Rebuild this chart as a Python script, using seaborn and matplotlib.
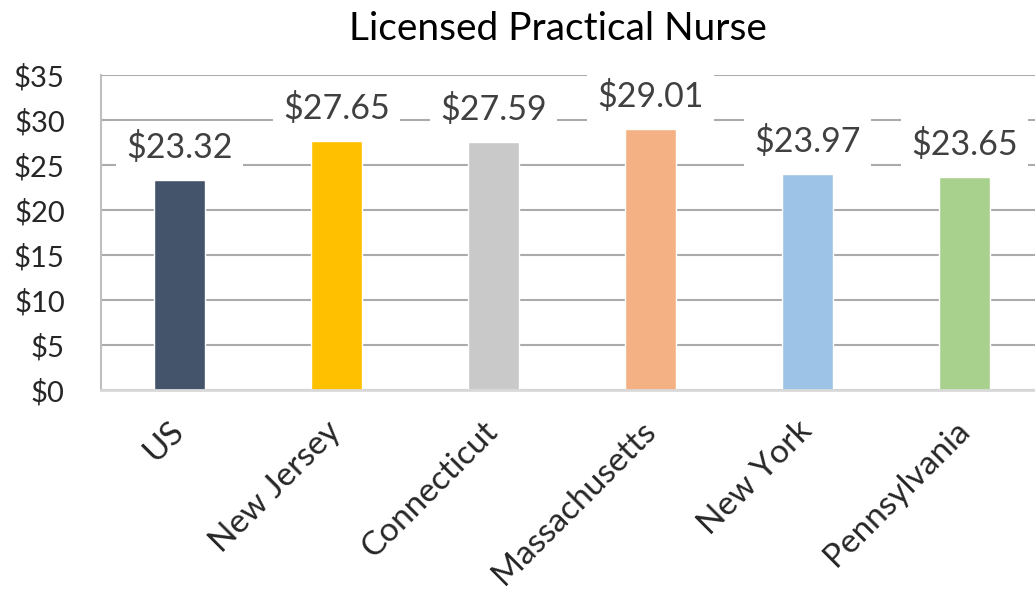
import matplotlib
matplotlib.use('Agg')
import matplotlib.pyplot as plt
import seaborn as sns
import pandas as pd

# chart data
states = ['US', 'New Jersey', 'Connecticut', 'Massachusetts', 'New York', 'Pennsylvania']
wages = [23.32, 27.65, 27.59, 29.01, 23.97, 23.65]
bar_colors = ['#44546A', '#FFC000', '#C9C9C9', '#F4B183', '#9DC3E6', '#A9D18E']
y_ticks = [0, 5, 10, 15, 20, 25, 30, 35]


def main():
    sns.set_style('white')
    plt.rcParams['font.family'] = ['Lato', 'DejaVu Sans']

    df = pd.DataFrame({'State': states, 'Wage': wages})

    fig = plt.figure(figsize=(10.35, 5.95), dpi=100)
    ax = fig.add_axes([0.0976, 0.3445, 0.9101, 0.5294])

    sns.barplot(data=df, x='State', y='Wage', hue='State', palette=bar_colors,
                legend=False, width=0.32, saturation=1, ax=ax, zorder=2)

    ax.set_ylim(0, 35)
    ax.set_xlim(-0.5, len(states) - 0.5)
    ax.set_yticks(y_ticks)
    ax.set_yticklabels([f'${t}' for t in y_ticks], fontsize=21)
    ax.tick_params(axis='y', length=0, pad=26)
    ax.tick_params(axis='x', length=0)
    ax.set_xticks(range(len(states)))
    ax.set_xticklabels(states, fontsize=24, rotation=45, ha='right',
                       va='center', rotation_mode='anchor')
    for lbl in ax.get_xticklabels():
        lbl.set_y(-0.1)
    ax.set_xlabel('')
    ax.set_ylabel('')

    ax.grid(axis='y', color='#ABABAB', linewidth=1.5, zorder=0)
    ax.set_axisbelow(True)
    for side in ['top', 'right']:
        ax.spines[side].set_visible(False)
    ax.spines['left'].set_color('#BFBFBF')
    ax.spines['left'].set_linewidth(1.5)
    ax.spines['bottom'].set_color('#D9D9D9')
    ax.spines['bottom'].set_linewidth(2)

    # value labels with white boxes
    for i, v in enumerate(wages):
        ax.text(i, v + 3.6, f'${v:.2f}', ha='center', va='center', fontsize=24.5,
                color='#404040', zorder=5, clip_on=False,
                bbox=dict(boxstyle='square,pad=0.3', facecolor='white', edgecolor='none'))

    fig.text(0.539, 0.952, 'Licensed Practical Nurse', ha='center', va='center',
             fontsize=28, color='black')

    fig.savefig('out.png', dpi=100)


if __name__ == '__main__':
    main()
